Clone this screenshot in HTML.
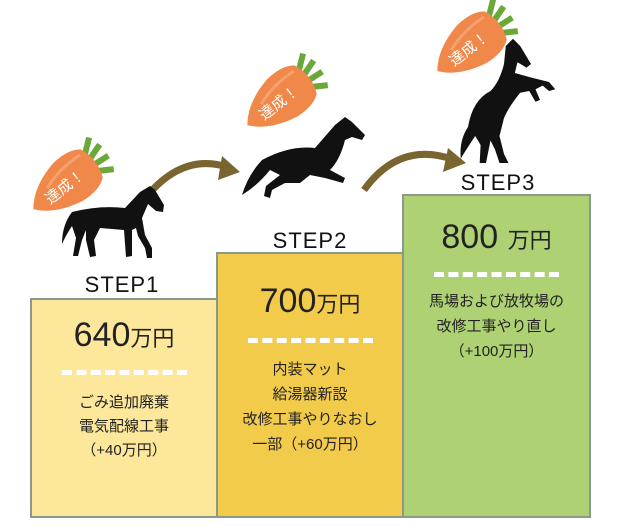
<!DOCTYPE html>
<html><head><meta charset="utf-8"><style>
body{margin:0;width:628px;height:526px;background:#fff;overflow:hidden;position:relative;font-family:"Liberation Sans","Noto Sans CJK JP",sans-serif}
.box{position:absolute;border:2px solid #8a9a8a;box-sizing:border-box;text-align:center;color:#222}
.big{font-size:34px;line-height:34px}
.big span{font-size:22px}
.dash{margin:0 auto;height:0;border-top:5px dashed #fff;width:125px}
.t{font-size:15px;line-height:24px}
.lbl{position:absolute;font-size:22px;letter-spacing:1px;color:#111;text-align:center;width:120px}
</style></head><body>
<div class="box" style="left:30px;top:298px;width:188px;height:220px;background:#fce79a">
 <div class="big" style="margin-top:18px">640<span>万円</span></div>
 <div class="dash" style="margin-top:14px"></div>
 <div class="t" style="margin-top:16px">ごみ追加廃棄<br>電気配線工事<br>（+40万円）</div>
</div>
<div class="box" style="left:216px;top:252px;width:188px;height:266px;background:#f3cb4a">
 <div class="big" style="margin-top:30px">700<span>万円</span></div>
 <div class="dash" style="margin-top:16px"></div>
 <div class="t" style="margin-top:14px;line-height:25px">内装マット<br>給湯器新設<br>改修工事やりなおし<br>一部（+60万円）</div>
</div>
<div class="box" style="left:402px;top:194px;width:189px;height:324px;background:#aed173">
 <div class="big" style="margin-top:24px">800 <span>万円</span></div>
 <div class="dash" style="margin-top:14px"></div>
 <div class="t" style="margin-top:12px;line-height:25px">馬場および放牧場の<br>改修工事やり直し<br>（+100万円）</div>
</div>
<div class="lbl" style="left:62px;top:272px">STEP1</div>
<div class="lbl" style="left:250px;top:228px">STEP2</div>
<div class="lbl" style="left:438px;top:170px">STEP3</div>
<svg width="628" height="300" style="position:absolute;left:0;top:0">
 <defs>
 <g id="car">
  <path d="M26 -8 L44 -22 M26 -3 L48 -10 M26 2 L48 4 M26 7 L44 18" stroke="#6aa83a" stroke-width="6"/>
  <path d="M-44 0 Q-30 -18 0 -24 Q20 -26 30 -18 Q38 0 30 18 Q20 26 0 24 Q-30 18 -44 0 Z" fill="#f0884a"/>
  <path d="M-20 -8 Q0 -16 26 -14" stroke="#f6a070" stroke-width="3" fill="none"/>
  <text x="-28" y="7" fill="#fff" font-size="15">達成！</text>
 </g>
 </defs>
 <use href="#car" transform="translate(68,182) rotate(-38)"/>
 <use href="#car" transform="translate(282,98) rotate(-38)"/>
 <use href="#car" transform="translate(472,44) rotate(-38)"/>
 <path d="M140 205 Q180 150 230 168" stroke="#7a6430" stroke-width="7" fill="none"/>
 <path d="M222 156 L240 172 L218 180 Z" fill="#7a6430"/>
 <path d="M364 190 Q400 140 455 160" stroke="#7a6430" stroke-width="7" fill="none"/>
 <path d="M448 148 L466 163 L443 172 Z" fill="#7a6430"/>
 <path d="M72 212 Q100 205 125 208 L140 192 L150 186 L155 190 L164 205 L163 212 L156 211 L148 204 L142 218 L145 235 L152 248 L152 258 L147 258 L145 248 L138 236 L136 228 L132 230 L132 256 L126 257 L124 230 L100 228 L94 240 L96 256 L90 257 L86 240 L86 230 L82 240 L78 256 L73 256 L76 238 L72 226 Q66 235 62 244 Q62 225 72 212 Z" fill="#111"/>
 <path d="M262 160 Q290 145 315 148 L335 125 L345 117 L352 122 L365 135 L362 140 L352 137 L345 140 Q340 160 330 170 L345 178 L343 183 L325 178 L310 175 L300 183 L285 183 L272 190 L270 198 L264 196 L266 186 L280 175 L270 170 Q258 185 242 195 Q248 175 262 160 Z" fill="#111"/>
 <path transform="translate(45,-8) scale(0.9)" d="M470 150 Q475 120 495 110 Q505 100 510 80 L512 60 L520 52 L528 60 L540 80 L535 84 L525 78 L522 90 L540 95 L560 100 L567 108 L560 110 L553 104 L545 108 L550 120 L545 122 L538 110 L528 112 Q515 128 510 140 L505 160 L510 180 L515 190 L505 190 L500 175 L495 165 L490 190 L483 190 L484 170 L478 160 Q468 175 462 185 Q460 165 470 150 Z" fill="#111"/>
</svg>
</body></html>
